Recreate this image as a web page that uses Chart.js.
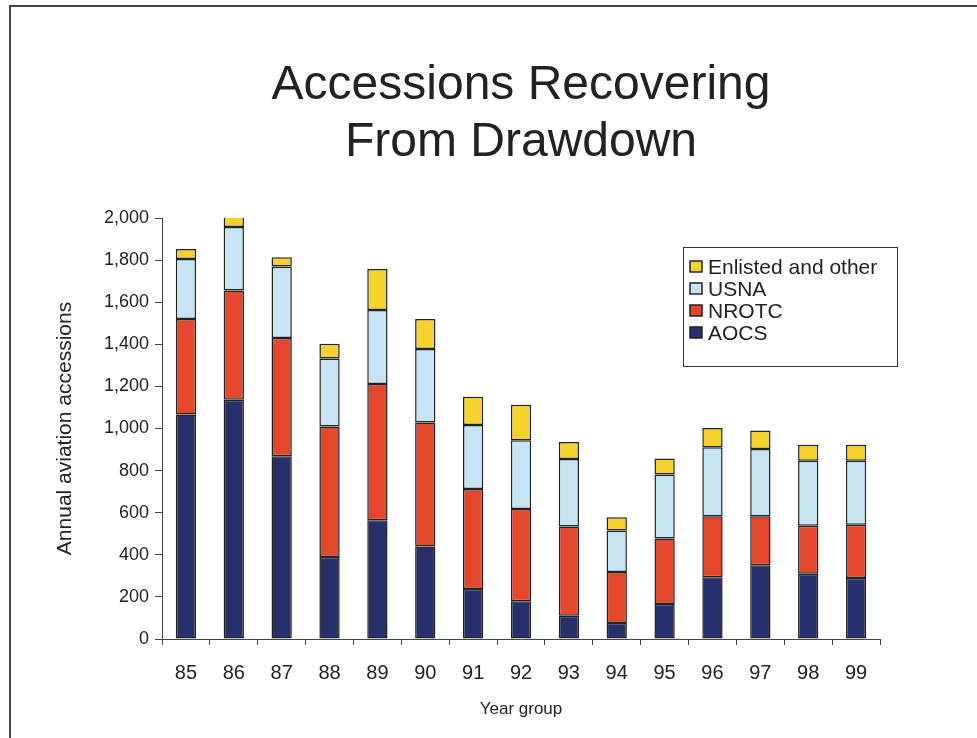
<!DOCTYPE html>
<html><head><meta charset="utf-8">
<script src="https://cdn.jsdelivr.net/npm/chart.js@4/dist/chart.umd.min.js"></script>
<style>html,body{margin:0;padding:0;background:#fff;} #wrap{width:977px;height:738px;position:relative;}</style>
</head><body><div id="wrap"><canvas id="c" width="977" height="738"></canvas></div>
<script>
const years = ['85','86','87','88','89','90','91','92','93','94','95','96','97','98','99'];
const aocs     = [1066,1137,868,390,564,440,238,179,111,76,166,293,350,310,290];
const nrotc    = [454,518,562,620,647,589,475,439,424,242,311,290,233,228,253];
const usna     = [285,302,340,322,352,349,304,326,320,198,305,328,320,309,304];
const enlisted = [48,51,43,71,195,142,134,169,81,62,75,91,87,76,76];
const seriesNames = ['AOCS','NROTC','USNA','Enlisted and other'];
const titleLines = ['Accessions Recovering','From Drawdown'];
const xTitle = 'Year group';
const yTitle = 'Annual aviation accessions';

const FONT = "'Liberation Sans', Arial, Helvetica, sans-serif";
const colors = ['#28306c','#e5472d','#c6e4f3','#f5d22c'];
const values = [aocs, nrotc, usna, enlisted];

const framePlugin = {
  id: 'frame',
  beforeDraw(chart) {
    const ctx = chart.ctx;
    ctx.save();
    ctx.fillStyle = '#fff';
    ctx.fillRect(0, 0, chart.width, chart.height);
    ctx.strokeStyle = '#444';
    ctx.lineWidth = 2;
    ctx.beginPath();
    ctx.moveTo(10, 738);
    ctx.lineTo(10, 6);
    ctx.lineTo(977, 6);
    ctx.stroke();
    ctx.restore();
  }
};

const legendPlugin = {
  id: 'boxLegend',
  afterDraw(chart) {
    const ctx = chart.ctx;
    ctx.save();
    ctx.strokeStyle = '#333';
    ctx.lineWidth = 1;
    ctx.strokeRect(683.5, 247.5, 214, 119);
    const ds = chart.data.datasets.slice().reverse();
    ds.forEach((d, i) => {
      const cy = 266 + i * 22;
      ctx.fillStyle = d.backgroundColor;
      ctx.fillRect(690, cy - 5, 12, 11);
      ctx.strokeStyle = '#222';
      ctx.lineWidth = 1.5;
      ctx.strokeRect(690, cy - 5, 12, 11);
      ctx.fillStyle = '#222';
      ctx.font = '21px ' + FONT;
      ctx.textBaseline = 'middle';
      ctx.textAlign = 'left';
      ctx.fillText(d.label, 708, cy + 2);
    });
    ctx.restore();
  }
};

new Chart(document.getElementById('c'), {
  type: 'bar',
  data: {
    labels: years,
    datasets: seriesNames.map((n, i) => ({
      label: n,
      data: values[i],
      backgroundColor: colors[i],
      borderColor: '#222',
      borderWidth: 1.5,
      borderSkipped: false,
      categoryPercentage: 1,
      barPercentage: 0.424
    }))
  },
  options: {
    responsive: false,
    animation: false,
    devicePixelRatio: 1,
    layout: { padding: { left: 0, right: 97, top: 0, bottom: 0 } },
    plugins: {
      legend: { display: false },
      tooltip: { enabled: false },
      title: {
        display: true,
        fullSize: false,
        text: titleLines,
        color: '#222',
        font: { family: FONT, size: 48, weight: 'normal', lineHeight: 1.1875 },
        padding: { top: 57, bottom: 47 }
      }
    },
    scales: {
      x: {
        stacked: true,
        grid: { offset: true, drawOnChartArea: false, drawTicks: true, tickLength: 6, color: '#444', lineWidth: 1 },
        border: { color: '#444', width: 1 },
        ticks: { font: { family: FONT, size: 20 }, color: '#222', padding: 16, maxRotation: 0 },
        title: { display: true, text: xTitle, color: '#222', font: { family: FONT, size: 17 }, padding: { top: 0, bottom: 18 } },
        afterFit(s) { s.height = 99; }
      },
      y: {
        stacked: true,
        min: 0, max: 2000,
        grid: { drawOnChartArea: false, drawTicks: true, tickLength: 7, color: '#444', lineWidth: 1 },
        border: { color: '#444', width: 1 },
        ticks: { stepSize: 200, font: { family: FONT, size: 18 }, color: '#222', padding: 6,
                 callback: v => v.toLocaleString('en-US') },
        title: { display: true, text: yTitle, color: '#222', font: { family: FONT, size: 21 }, padding: { top: 53 } },
        afterFit(s) { s.width = 162; }
      }
    }
  },
  plugins: [framePlugin, legendPlugin]
});
</script>
</body></html>
